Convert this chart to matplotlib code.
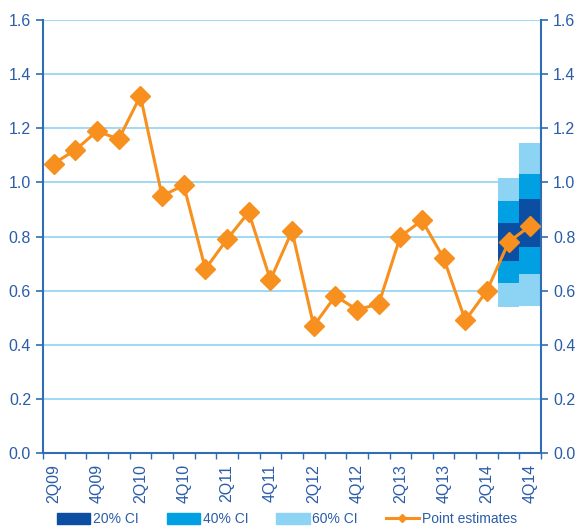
import matplotlib.pyplot as plt
from matplotlib.patches import Patch
from matplotlib.lines import Line2D

plt.rcParams['font.family'] = ['Liberation Sans', 'DejaVu Sans']

# Quarters 2Q09 .. 4Q14
quarters = ["2Q09", "3Q09", "4Q09", "1Q10", "2Q10", "3Q10", "4Q10",
            "1Q11", "2Q11", "3Q11", "4Q11", "1Q12", "2Q12", "3Q12", "4Q12",
            "1Q13", "2Q13", "3Q13", "4Q13", "1Q14", "2Q14", "3Q14", "4Q14"]
point_estimates = [1.07, 1.12, 1.19, 1.16, 1.32, 0.95, 0.99, 0.68, 0.79, 0.89,
                   0.64, 0.82, 0.47, 0.58, 0.53, 0.55, 0.80, 0.86, 0.72, 0.49,
                   0.60, 0.78, 0.84]

# confidence bands for the last two quarters
fan_quarters = ["3Q14", "4Q14"]
ci20_low = [0.71, 0.76]
ci20_high = [0.85, 0.94]
ci40_low = [0.63, 0.66]
ci40_high = [0.93, 1.03]
ci60_low = [0.54, 0.545]
ci60_high = [1.015, 1.145]

dark = "#0B4EA2"
mid = "#00A0E3"
light = "#8DD3F3"
orange = "#F7901E"
axis_blue = "#2F6DB5"
text_blue = "#2A5CA8"

fig = plt.figure(figsize=(5.8, 5.31), dpi=100)
ax = fig.add_axes([0.074, 0.147, 0.859, 0.815])

x = list(range(len(quarters)))
fx = [quarters.index(q) for q in fan_quarters]

# bands: draw widest first
for lo, hi, c in [(ci60_low, ci60_high, light), (ci40_low, ci40_high, mid),
                  (ci20_low, ci20_high, dark)]:
    ax.bar(fx, [h - l for l, h in zip(lo, hi)], bottom=lo, width=1.0,
           color=c, linewidth=0, zorder=2)

ax.plot(x, point_estimates, color=orange, linewidth=2.2, marker="D",
        markersize=10.5, zorder=3)

ax.set_xlim(-0.5, len(quarters) - 0.5)
ax.set_ylim(0, 1.6)
ax.set_yticks([i * 0.2 for i in range(9)])
ax.set_yticklabels([f"{i * 0.2:.1f}" for i in range(9)])
ax.yaxis.grid(True, color=light, linewidth=1.2, zorder=0)
ax.set_axisbelow(True)

ax.set_xticks([i - 0.5 for i in range(len(quarters) + 1)])
ax.set_xticklabels([])
ax.set_xticks(x[::2], minor=True)
ax.set_xticklabels(quarters[::2], minor=True, rotation=90)
ax.tick_params(axis="x", which="major", direction="out", length=4,
               color=axis_blue, width=1)
ax.tick_params(axis="x", which="minor", length=0, pad=8,
               labelsize=11.5, labelcolor=text_blue)
ax.tick_params(axis="y", which="major", direction="out", length=5,
               color=axis_blue, width=1.2, labelsize=11.5,
               labelcolor=text_blue, left=True, right=True,
               labelleft=True, labelright=True)

for side in ["left", "right", "bottom"]:
    ax.spines[side].set_color(axis_blue)
    ax.spines[side].set_linewidth(1.5)
ax.spines["top"].set_visible(False)

handles = [Patch(color=dark, label="20% CI"),
           Patch(color=mid, label="40% CI"),
           Patch(color=light, label="60% CI"),
           Line2D([0], [0], color=orange, linewidth=2.2, marker="D",
                  markersize=4, label="Point estimates")]
leg = fig.legend(handles=handles, loc="center", bbox_to_anchor=(0.495, 0.022),
                 ncol=4, frameon=False, fontsize=10, handlelength=2.4,
                 handleheight=0.75, handletextpad=0.2, columnspacing=2.0)
for t in leg.get_texts():
    t.set_color(text_blue)

fig.savefig("out.png", dpi=100)
